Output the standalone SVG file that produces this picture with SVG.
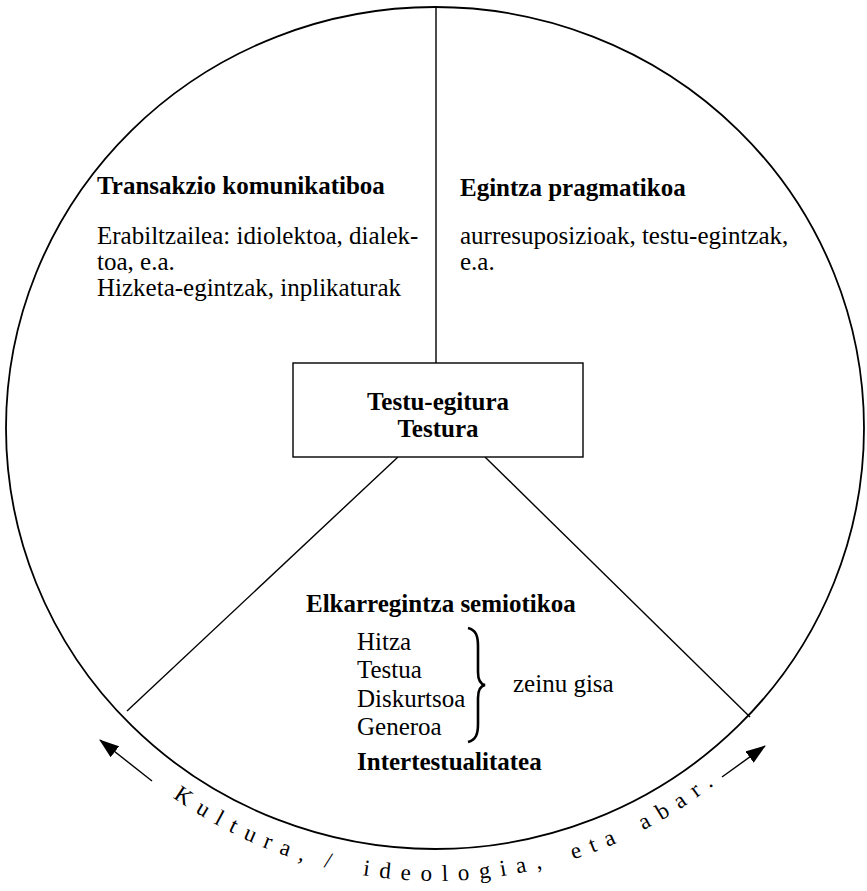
<svg xmlns="http://www.w3.org/2000/svg" width="867" height="891" viewBox="0 0 867 891">
<style>
  .t { font-family: "Liberation Serif", "Times New Roman", serif; font-size: 25px; fill: #000; }
  .b { font-weight: bold; }
  .arc { font-family: "Liberation Serif", "Times New Roman", serif; font-size: 23px; letter-spacing: 10px; fill: #000; }
  .ln { stroke: #000; stroke-width: 1.4; fill: none; }
</style>
<defs>
  <marker id="ah" markerUnits="userSpaceOnUse" markerWidth="20" markerHeight="14" refX="19" refY="7" orient="auto">
    <path d="M0,0 L20,7 L0,14 Z" fill="#000"/>
  </marker>
  <path id="textArc" d="M114.7,748.3 A453,453 0 0 0 755.3,748.3"/>
</defs>
<rect width="867" height="891" fill="#fff"/>

<g id="circle">
  <ellipse cx="435" cy="428" rx="429" ry="421" fill="none" stroke="#000" stroke-width="1.8"/>
</g>

<g id="connectors">
  <line class="ln" x1="436" y1="7" x2="436" y2="363"/>
  <line class="ln" x1="398" y1="457" x2="127" y2="711"/>
  <line class="ln" x1="485" y1="457" x2="750" y2="717"/>
  <line class="ln" x1="152" y1="781" x2="100" y2="740" marker-end="url(#ah)"/>
  <line class="ln" x1="722" y1="777" x2="765" y2="746" marker-end="url(#ah)"/>
</g>

<g id="transakzio">
  <text class="t b" x="97" y="194">Transakzio komunikatiboa</text>
  <text class="t" x="97" y="244">Erabiltzailea: idiolektoa, dialek-</text>
  <text class="t" x="97" y="270">toa, e.a.</text>
  <text class="t" x="97" y="296">Hizketa-egintzak, inplikaturak</text>
</g>

<g id="egintza">
  <text class="t b" x="460" y="196">Egintza pragmatikoa</text>
  <text class="t" x="460" y="244">aurresuposizioak, testu-egintzak,</text>
  <text class="t" x="460" y="270">e.a.</text>
</g>

<g id="testu-egitura">
  <rect x="293" y="363" width="290" height="94" fill="#fff" stroke="#000" stroke-width="1.4"/>
  <text class="t b" x="438" y="410" text-anchor="middle" font-size="24">Testu-egitura</text>
  <text class="t b" x="438" y="437" text-anchor="middle" font-size="24">Testura</text>
</g>

<g id="elkarregintza">
  <text class="t b" x="306" y="612">Elkarregintza semiotikoa</text>
  <text class="t" x="357" y="650">Hitza</text>
  <text class="t" x="357" y="678">Testua</text>
  <text class="t" x="357" y="707">Diskurtsoa</text>
  <text class="t" x="357" y="735">Generoa</text>
  <path d="M468,628 C476,630 478,636 478,646 L478,672 C478,680 480,684 485,685 C480,686 478,690 478,698 L478,724 C478,734 476,740 468,742" fill="none" stroke="#000" stroke-width="2.6"/>
  <text class="t" x="513" y="692">zeinu gisa</text>
  <text class="t b" x="357" y="770">Intertestualitatea</text>
</g>

<g id="kultura">
  <text class="arc"><textPath href="#textArc" startOffset="76">Kultura,</textPath></text>
  <text class="arc"><textPath href="#textArc" startOffset="243">/</textPath></text>
  <text class="arc"><textPath href="#textArc" startOffset="283">ideologia,</textPath></text>
  <text class="arc"><textPath href="#textArc" startOffset="496">eta</textPath></text>
  <text class="arc"><textPath href="#textArc" startOffset="572">abar.</textPath></text>
</g>
</svg>
